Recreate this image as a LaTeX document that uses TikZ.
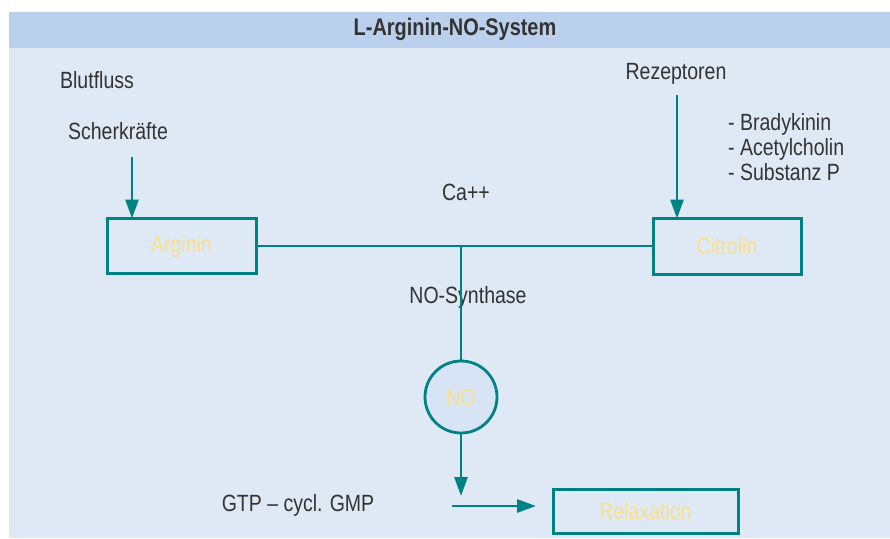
\documentclass[tikz,border=0pt]{standalone}
\usepackage{fontspec}
\setmainfont[FakeStretch=0.83]{Liberation Sans}
\usetikzlibrary{arrows.meta}
\definecolor{bgc}{HTML}{DFE8F5}
\definecolor{hdrc}{HTML}{BBD0EC}
\definecolor{tealc}{HTML}{008282}
\definecolor{txtc}{HTML}{333333}
\definecolor{ylwc}{HTML}{F8E08C}
\definecolor{circc}{HTML}{D6E4F5}
\begin{document}
\begin{tikzpicture}[x=1pt,y=-1pt,
  lbl/.style={text=txtc,font=\fontsize{23.5}{25}\selectfont,inner sep=0pt},
  boxc/.style={draw=tealc,line width=3pt,text=ylwc,font=\fontsize{23.5}{25}\selectfont,inner sep=0pt},
  conn/.style={draw=tealc,line width=2.8pt},
  arr/.style={conn,-{Triangle[length=19pt,width=13pt]}}]
\useasboundingbox (0,0) rectangle (890,538);
\fill[white] (0,0) rectangle (890,538);
\fill[bgc] (9,12) rectangle (890,538);
\fill[hdrc] (9,12) rectangle (890,48);
\node[text=txtc,font=\bfseries\fontsize{24}{26}\selectfont,inner sep=0pt] (title) at (455,29) {L-Arginin-NO-System};

\node[lbl] (blut) at (97,80) {Blutfluss};
\node[lbl] (scher) at (118,131) {Scherkräfte};
\node[lbl] (rez) at (676,74) {Rezeptoren};
\node[lbl,anchor=west,align=left] (list) at (728,147) {- Bradykinin\\- Acetylcholin\\- Substanz P};
\node[lbl] (ca) at (466,192) {Ca++};

\node[boxc,minimum width=149pt,minimum height=55pt] (arg) at (181.5,246) {Arginin};
\node[boxc,minimum width=148pt,minimum height=56pt] (cit) at (727,246) {Citrolin};
\coordinate (j) at (461,246);
\draw[conn] (arg.east) -- (cit.west);

\node[lbl] (syn) at (468,297) {NO-Synthase};
\node[circle,draw=tealc,fill=circc,line width=2.8pt,minimum size=72pt,inner sep=0pt,text=ylwc,font=\fontsize{23.5}{25}\selectfont] (no) at (461,397) {NO};
\draw[conn] (j) -- (no.north);

\coordinate (nend) at (461,496);
\draw[arr] (no.south) -- (nend);

\node[lbl] (gtp) at (298,505) {GTP – cycl. GMP};
\node[boxc,minimum width=185pt,minimum height=44pt] (rel) at (645.5,511) {Relaxation};
\coordinate (hs) at (452,506);
\coordinate (he) at (536,506);
\draw[arr] (hs) -- (he);

\coordinate (s1) at (132,157);
\draw[arr] (s1) -- (132,218.5);
\coordinate (r1) at (677,95);
\draw[arr] (r1) -- (677,218.5);
\end{tikzpicture}
\end{document}
